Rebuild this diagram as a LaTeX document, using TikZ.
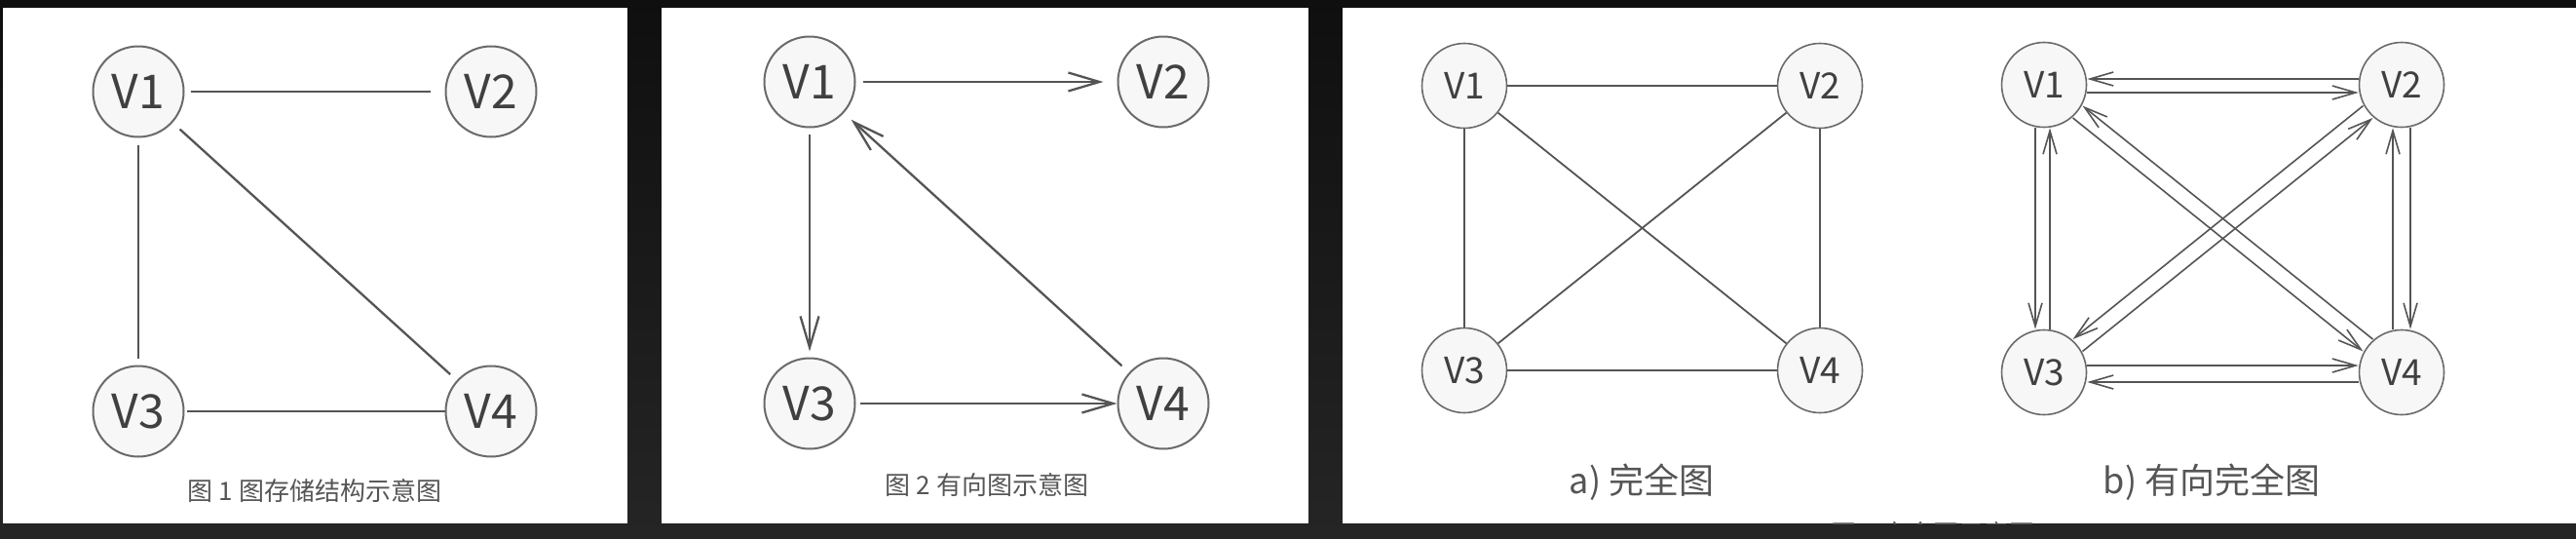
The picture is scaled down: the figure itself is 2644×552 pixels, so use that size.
\documentclass[tikz,border=0pt]{standalone}
\usepackage{fontspec}
\newfontfamily\cjk{Noto Sans CJK SC}
\usetikzlibrary{arrows.meta}

\definecolor{edge}{HTML}{555555}
\definecolor{ring}{HTML}{6A6A6A}
\definecolor{disc}{HTML}{F7F7F7}
\definecolor{ink}{HTML}{404040}
\definecolor{capink}{HTML}{555555}
\definecolor{bgtop}{HTML}{0F0F0F}
\definecolor{bgbot}{HTML}{252525}

\tikzset{
	vbig/.style={circle, draw=ring, fill=disc, line width=2pt, minimum size=93pt, inner sep=0pt, text=ink, font=\cjk\fontsize{48}{50}\selectfont},
	vsmall/.style={circle, draw=ring, fill=disc, line width=1.6pt, minimum size=87pt, inner sep=0pt, text=ink, font=\cjk\fontsize{37}{40}\selectfont},
	capt/.style={text=capink, inner sep=0pt, font=\cjk\fontsize{26}{28}\selectfont},
	subcapt/.style={text=capink, inner sep=0pt, font=\cjk\fontsize{36}{40}\selectfont},
	arrowbig/.style={-{Straight Barb[length=32pt, width=19pt]}},
	arrowthin/.style={-{Straight Barb[length=24pt, width=14pt]}},
}

\begin{document}
\begin{tikzpicture}[x=1pt, y=-1pt, line width=2.3pt, draw=edge]
\shade[top color=bgtop, bottom color=bgbot] (0,0) rectangle (2644,552);
\useasboundingbox (0,0) rectangle (2644,552);
\fill[white] (3,8) rectangle (644,537);
\fill[white] (679,8) rectangle (1343,537);
\fill[white] (1378,8) rectangle (2644,537);

\node[vbig] (a1) at (142,94) {V1};
\node[vbig] (a2) at (504,94) {V2};
\node[vbig] (a3) at (142,422) {V3};
\node[vbig] (a4) at (504,422) {V4};
\draw[shorten <=6pt, shorten >=15pt] (a1) -- (a2);
\draw[shorten <=7pt, shorten >=7pt] (a1) -- (a3);
\draw[shorten <=10pt, shorten >=9pt] (a1) -- (a4);
\draw[shorten <=2pt] (a3) -- (a4);
\node[capt] (t1) at (323,504) {图 1 图存储结构示意图};

\node[vbig] (d1) at (831,84) {V1};
\node[vbig] (d2) at (1194,84) {V2};
\node[vbig] (d3) at (831,414) {V3};
\node[vbig] (d4) at (1194,414) {V4};
\draw[arrowbig, shorten <=7pt, shorten >=14pt] (d1) -- (d2);
\draw[arrowbig, shorten <=6pt, shorten >=6pt] (d1) -- (d3);
\draw[arrowbig, shorten <=4pt] (d3) -- (d4);
\draw[arrowbig, shorten <=10pt, shorten >=10pt] (d4) -- (d1);
\node[capt] (t2) at (1013,497) {图 2 有向图示意图};

\node[vsmall] (c1) at (1503,88) {V1};
\node[vsmall] (c2) at (1868,88) {V2};
\node[vsmall] (c3) at (1503,380) {V3};
\node[vsmall] (c4) at (1868,380) {V4};
\foreach \i/\j in {1/2,1/3,1/4,2/3,2/4,3/4}{
	\draw[line width=1.8pt] (c\i) -- (c\j);
}
\node[subcapt] (t3) at (1685,495) {a) 完全图};

\node[vsmall] (e1) at (2098,87) {V1};
\node[vsmall] (e2) at (2465,87) {V2};
\node[vsmall] (e3) at (2098,382) {V3};
\node[vsmall] (e4) at (2465,382) {V4};
\foreach \a/\b/\sx/\sy in {2/1/0/-6, 1/2/0/8, 1/3/-9/0, 3/1/6/0, 3/4/0/-7, 4/3/0/10, 4/2/-9/0, 2/4/9/0, 4/1/5/-6.2, 1/4/-5/6.2, 2/3/-5/-6.2, 3/2/5/6.2}{
	\draw[arrowthin, line width=1.6pt, transform canvas={shift={(\sx,\sy)}}] (e\a) -- (e\b);
}
\node[subcapt] (t4) at (2270,495) {b) 有向完全图};

\begin{scope}
\clip (1378,8) rectangle (2644,537);
\node[capt, anchor=north] (t5) at (1984,534) {图 3 完全图示意图};
\end{scope}
\end{tikzpicture}
\end{document}
